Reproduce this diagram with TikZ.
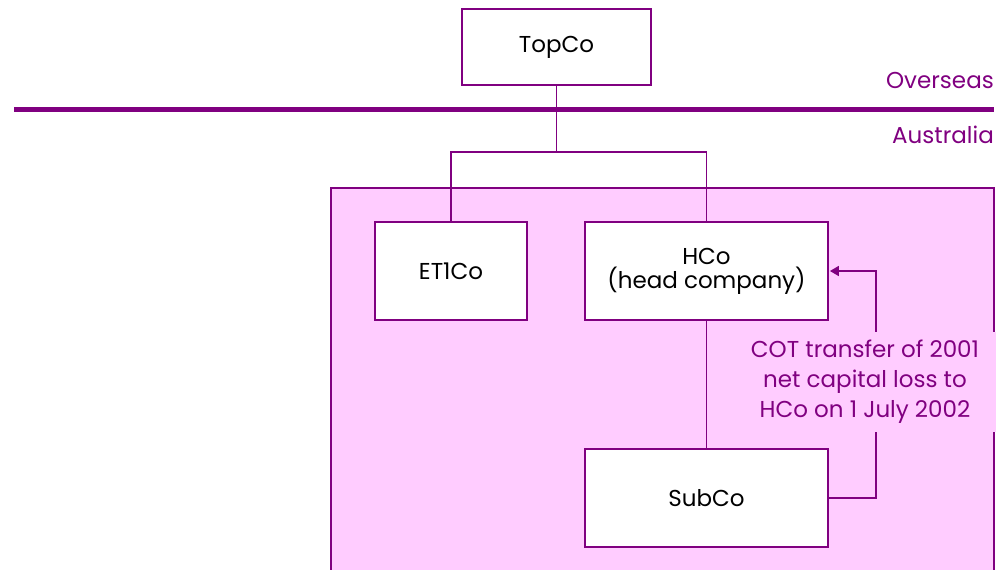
\documentclass[tikz,border=0pt]{standalone}
\usepackage{fontspec}
\setmainfont{Poppins}
\usetikzlibrary{arrows.meta}
\definecolor{lineP}{HTML}{800080}
\definecolor{pinkF}{HTML}{FFCCFF}
\begin{document}
\begin{tikzpicture}[x=1pt,y=-1pt,
  company/.style={draw=lineP,line width=1.8pt,fill=white,minimum width=#1,text=black,font=\fontsize{23}{27}\selectfont,align=center,inner sep=0pt},
  company/.default=190pt,
  link/.style={draw=lineP,line width=1.6pt},
  region/.style={text=lineP,font=\fontsize{23}{27}\selectfont,anchor=base east,inner sep=0pt},
  note/.style={text=lineP,font=\fontsize{23}{30}\selectfont,align=center,fill=pinkF,inner sep=0pt,minimum width=262pt,minimum height=100pt}]
\useasboundingbox (0,0) rectangle (1005,570);
% pink Australian group region
\fill[pinkF] (331,188) rectangle (994,575);
\draw[link] (331,575) -- (331,188) -- (994,188) -- (994,575);
% border line
\draw[draw=lineP,line width=5pt] (14,109) -- (994,109);
\node[region] (ov) at (994,88) {Overseas};
\node[region] (au) at (994,143) {Australia};
% companies
\node[company=189pt,minimum height=76pt] (top) at (556.5,47) {TopCo};
\node[company=152pt,minimum height=98pt] (et1) at (451,271) {ET1Co};
\node[company=243pt,minimum height=98pt] (hco) at (706.5,271) {HCo\\[-3pt](head company)};
\node[company=243pt,minimum height=98pt] (sub) at (706.5,498) {SubCo};
% ownership lines
\coordinate (j) at (556.5,152);
\draw[link] (top.south) -- (j);
\draw[link] (et1.north) |- (j) -| (hco.north);
\draw[link] (hco.south) -- (sub.south |- sub.north);
% COT transfer arrow
\coordinate (rr) at (876,0);
\draw[link,-{Triangle[length=9pt,width=10pt]}] (sub.east) -| (rr |- hco.east) -- ([xshift=1pt]hco.east);
\node[note] (cot) at (865,382) {COT transfer of 2001\\net capital loss to\\HCo on 1 July 2002};
\end{tikzpicture}
\end{document}
